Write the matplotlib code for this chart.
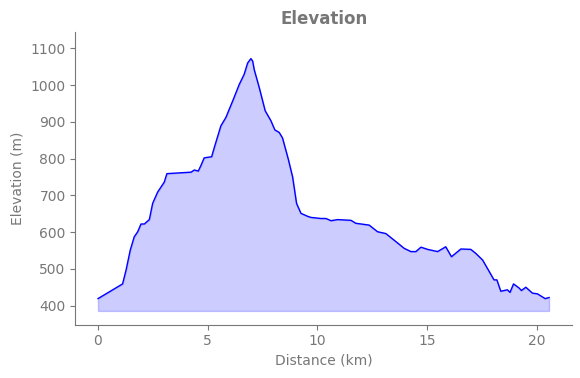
import numpy as np
import matplotlib
matplotlib.use("Agg")
import matplotlib.pyplot as plt

distance_km = [0.00, 1.12, 1.28, 1.47, 1.65, 1.81, 1.96, 2.11, 2.34, 2.49,
               2.72, 3.02, 3.14, 4.24, 4.39, 4.57, 4.69, 4.84, 5.18, 5.30,
               5.60, 5.83, 6.14, 6.44, 6.66, 6.82, 6.97, 7.05, 7.12, 7.35,
               7.62, 7.88, 8.06, 8.26, 8.41, 8.67, 8.87, 9.05, 9.25, 9.55,
               9.70, 10.16, 10.39, 10.62, 10.92, 11.53, 11.75, 12.36, 12.74, 13.12,
               13.58, 13.95, 14.26, 14.49, 14.72, 15.02, 15.25, 15.48, 15.85, 16.11,
               16.54, 16.99, 17.22, 17.53, 18.05, 18.18, 18.36, 18.66, 18.78, 18.94,
               19.19, 19.30, 19.50, 19.80, 20.03, 20.38, 20.56]
elevation_m = [419, 459, 497, 551, 587, 601, 622, 622, 634, 678,
               709, 736, 759, 763, 769, 766, 781, 802, 805, 830,
               889, 912, 957, 1002, 1029, 1060, 1072, 1065, 1042, 993,
               930, 903, 878, 871, 856, 799, 750, 678, 651, 643,
               640, 637, 637, 631, 634, 632, 624, 619, 601, 596,
               574, 556, 547, 547, 559, 553, 550, 547, 560, 533,
               554, 553, 542, 524, 470, 470, 439, 443, 436, 459,
               448, 441, 450, 434, 432, 419, 422]

gray = "#777777"

fig = plt.figure(figsize=(5.8, 3.78), dpi=100)
ax = fig.add_axes([0.130, 0.141, 0.856, 0.774])

x = np.array(distance_km)
y = np.array(elevation_m)
base = y.min() * 0.92
ax.fill_between(x, y, base, color="blue", alpha=0.2)
ax.plot(x, y, color="blue", linewidth=1)

ax.set_xlim(-1.03, 21.6)
ax.set_ylim(348, 1144)
ax.set_xticks([0, 5, 10, 15, 20])
ax.set_yticks(range(400, 1101, 100))

ax.set_title("Elevation", fontsize=12, fontweight="bold", color=gray)
ax.set_xlabel("Distance (km)", fontsize=10, color=gray)
ax.set_ylabel("Elevation (m)", fontsize=10, color=gray)
ax.tick_params(colors=gray, labelsize=10)
for side in ["top", "right"]:
    ax.spines[side].set_visible(False)
for side in ["left", "bottom"]:
    ax.spines[side].set_color(gray)

fig.savefig("out.png", dpi=100)
